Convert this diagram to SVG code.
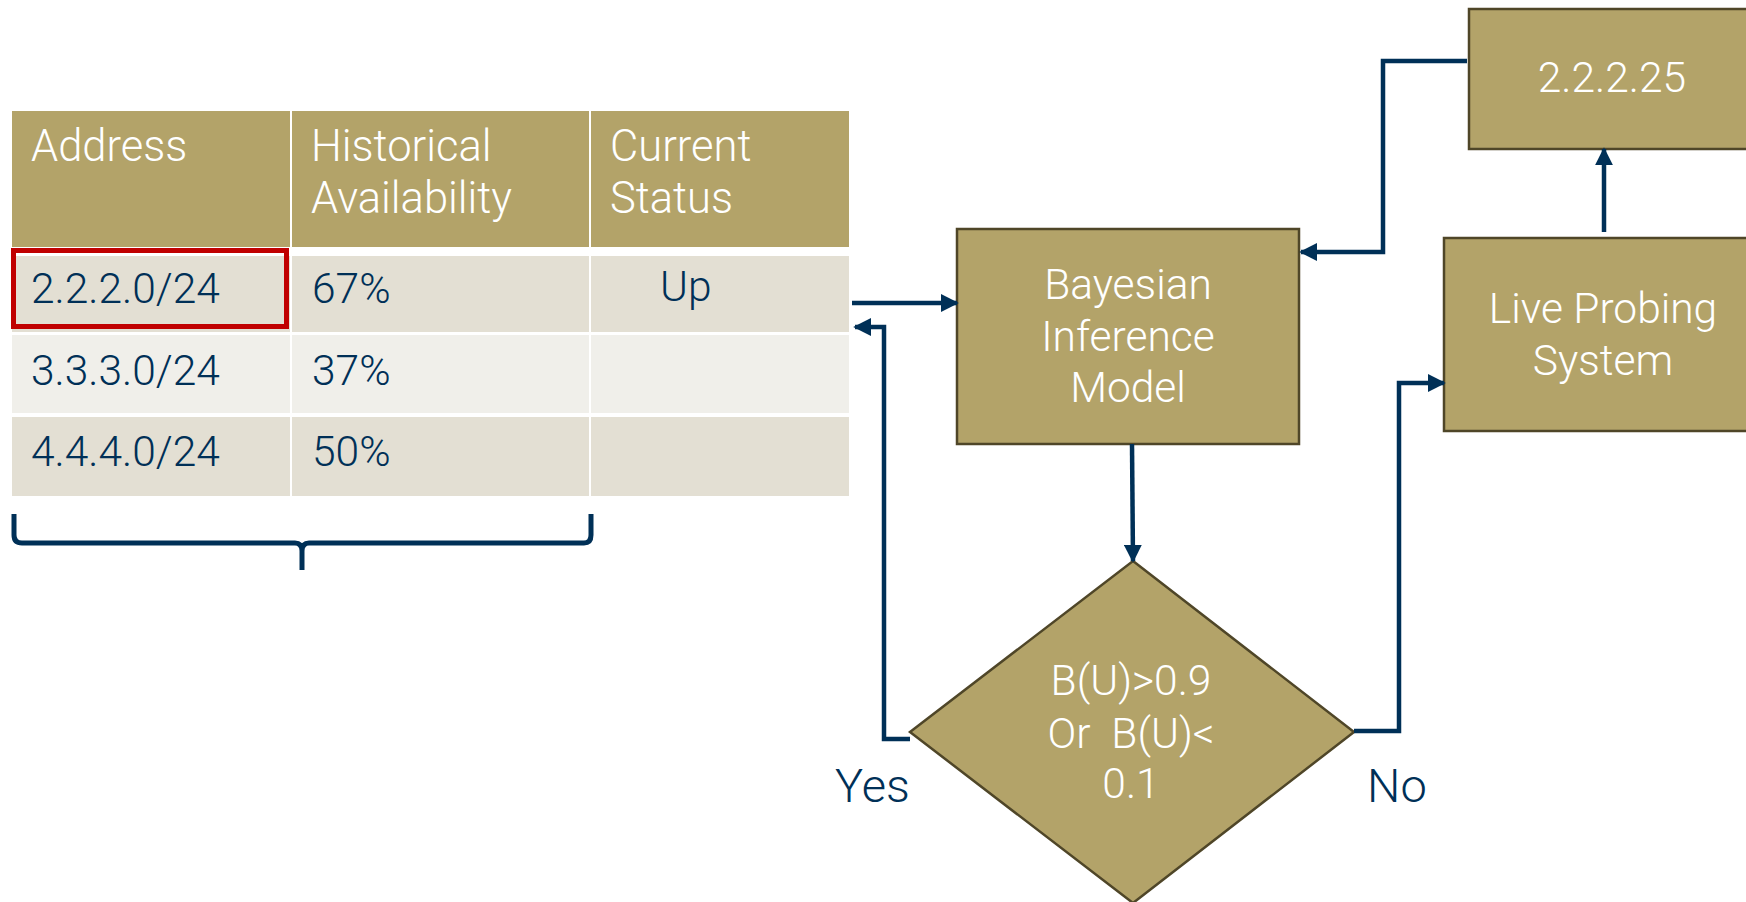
<svg xmlns="http://www.w3.org/2000/svg" width="1746" height="902" viewBox="0 0 1746 902">
<style>
.hd{fill:#B3A369}
.r1{fill:#E3DFD3}
.r2{fill:#F0EFEA}
.ht{font-family:Roboto,"Liberation Sans",sans-serif;font-weight:300;font-size:43.5px;fill:#FFFFFF}
.ct{font-family:Roboto,"Liberation Sans",sans-serif;font-weight:300;font-size:42.5px;fill:#003057}
.node{fill:#B3A369;stroke:#4F4628;stroke-width:2.5}
.nt{font-family:Roboto,"Liberation Sans",sans-serif;font-weight:300;font-size:42.5px;fill:#FFFFFF;text-anchor:middle}
.lbl{font-family:Roboto,"Liberation Sans",sans-serif;font-weight:300;font-size:47px;fill:#003057}
.conn{fill:none;stroke:#003057;stroke-width:4.5}
</style>
<defs>
<marker id="ah" viewBox="0 0 10 10" refX="9" refY="5" markerWidth="4" markerHeight="4" orient="auto" markerUnits="strokeWidth">
<path d="M0,0 L10,5 L0,10 Z" fill="#003057"/>
</marker>
</defs>
<rect width="1746" height="902" fill="#FFFFFF"/>

<g id="table">
<rect class="hd" x="12" y="111" width="278" height="136"/>
<rect class="hd" x="292" y="111" width="297" height="136"/>
<rect class="hd" x="591" y="111" width="258" height="136"/>
<rect class="r1" x="12" y="256" width="278" height="76"/>
<rect class="r1" x="292" y="256" width="297" height="76"/>
<rect class="r1" x="591" y="256" width="258" height="76"/>
<rect class="r2" x="12" y="335" width="278" height="78"/>
<rect class="r2" x="292" y="335" width="297" height="78"/>
<rect class="r2" x="591" y="335" width="258" height="78"/>
<rect class="r1" x="12" y="417" width="278" height="79"/>
<rect class="r1" x="292" y="417" width="297" height="79"/>
<rect class="r1" x="591" y="417" width="258" height="79"/>
<text class="ht" x="31" y="161">Address</text>
<text class="ht" x="311" y="161">Historical</text>
<text class="ht" x="311" y="213">Availability</text>
<text class="ht" x="610" y="161">Current</text>
<text class="ht" x="610" y="213">Status</text>
<text class="ct" x="31" y="303">2.2.2.0/24</text>
<text class="ct" x="312" y="303">67%</text>
<text class="ct" x="660" y="301">Up</text>
<text class="ct" x="31" y="385">3.3.3.0/24</text>
<text class="ct" x="312" y="385">37%</text>
<text class="ct" x="31" y="466">4.4.4.0/24</text>
<text class="ct" x="312" y="466">50%</text>
<rect x="13.5" y="250.5" width="273" height="76" fill="none" stroke="#C00000" stroke-width="5"/>
</g>

<g id="bracket">
<path d="M14,514 V535 Q14,543 22,543 H295 Q302,543 302,551 V570 M302,551 Q302,543 309,543 H584 Q591,543 591,535 V514" fill="none" stroke="#003057" stroke-width="5"/>
</g>

<g id="bayesian">
<rect class="node" x="957" y="229" width="342" height="215"/>
<text class="nt" x="1128" y="299">Bayesian</text>
<text class="nt" x="1128" y="351">Inference</text>
<text class="nt" x="1128" y="402">Model</text>
</g>

<g id="decision">
<polygon class="node" points="1133,561 1354,732 1133,903 910,732"/>
<text class="nt" x="1131" y="695">B(U)&gt;0.9</text>
<text class="nt" x="1131" y="748" xml:space="preserve">Or  B(U)&lt;</text>
<text class="nt" x="1131" y="798">0.1</text>
</g>

<g id="probing">
<rect class="node" x="1444" y="238" width="330" height="193"/>
<text class="nt" x="1603" y="323">Live Probing</text>
<text class="nt" x="1603" y="375">System</text>
</g>

<g id="result">
<rect class="node" x="1469" y="9" width="300" height="140"/>
<text class="nt" x="1612" y="92">2.2.2.25</text>
</g>

<g id="labels">
<text class="lbl" x="835" y="802">Yes</text>
<text class="lbl" x="1367" y="802">No</text>
</g>

<g id="connectors">
<path class="conn" d="M852,303 H957" marker-end="url(#ah)"/>
<path class="conn" d="M910,739 H884 V327 H855" marker-end="url(#ah)"/>
<path class="conn" d="M1132,444 L1133,561" marker-end="url(#ah)"/>
<path class="conn" d="M1354,731 H1399 V383 H1444" marker-end="url(#ah)"/>
<path class="conn" d="M1604,232 V149" marker-end="url(#ah)"/>
<path class="conn" d="M1467,61 H1383 V252 H1301" marker-end="url(#ah)"/>
</g>
</svg>
